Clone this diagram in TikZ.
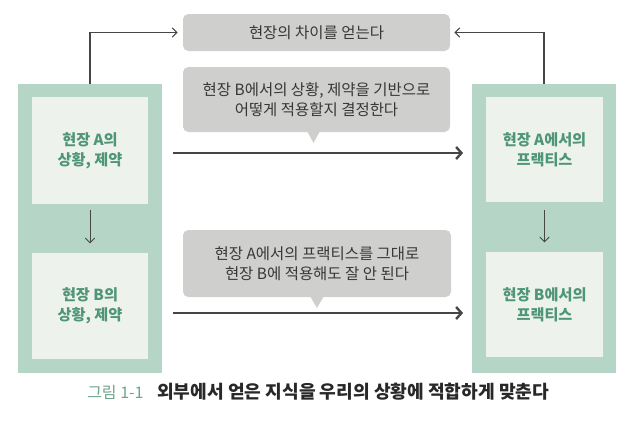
\documentclass[tikz,border=0pt]{standalone}
\usepackage{fontspec}
\setmainfont{Noto Sans CJK KR}
\usetikzlibrary{fit,arrows.meta}
\definecolor{panelg}{RGB}{181,213,198}
\definecolor{innerg}{RGB}{238,242,237}
\definecolor{textg}{RGB}{78,150,118}
\definecolor{bubg}{RGB}{207,207,205}
\definecolor{bubtext}{RGB}{55,55,55}
\definecolor{arrowc}{RGB}{70,70,70}
\definecolor{caplab}{RGB}{110,165,140}
\definecolor{capc}{RGB}{40,40,40}
\begin{document}
\begin{tikzpicture}[x=0.75pt,y=-0.75pt,
  panel/.style={fill=panelg, draw=none, inner sep=0pt},
  inbox/.style={fill=innerg, draw=none, inner sep=0pt, text=textg, font=\fontsize{11.4}{15}\selectfont\bfseries, align=center},
  bubble/.style={fill=bubg, draw=none, rounded corners=4pt, inner sep=0pt, text=bubtext, font=\fontsize{11.6}{15}\selectfont, align=center},
  thinarrow/.style={draw=arrowc, line width=0.8pt, -{Straight Barb[length=3.5pt,width=7pt]}},
  thickarrow/.style={draw=arrowc, line width=2.2pt, -{Straight Barb[length=4pt,width=9pt,line width=1.8pt]}},
  thindown/.style={draw=arrowc, line width=0.7pt, -{Straight Barb[length=3.5pt,width=7pt]}}
]
\useasboundingbox (0,0) rectangle (638,425);
% panels
\node[panel, fit={(18,84) (162,373)}] (pL) {};
\node[panel, fit={(472,84) (616,373)}] (pR) {};
\node[inbox, fit={(32,97) (148,204)}] (iA) {};
\node[inbox, fit={(32,253) (148,359)}] (iB) {};
\node[inbox, fit={(486,97) (603,202)}] (iC) {};
\node[inbox, fit={(486,252) (603,357)}] (iD) {};
\node[inbox, fill=none] (tA) at (iA.center) {현장 A의\\상황, 제약};
\node[inbox, fill=none] (tB) at (iB.center) {현장 B의\\상황, 제약};
\node[inbox, fill=none] (tC) at (iC.center) {현장 A에서의\\프랙티스};
\node[inbox, fill=none] (tD) at (iD.center) {현장 B에서의\\프랙티스};
% bubbles
\node[bubble, fit={(183,14) (450,51)}] (b1) {};
\node[bubble, fill=none] (t1) at (b1.center) {현장의 차이를 얻는다};
\node[bubble, fit={(183,67) (450,132)}] (b2) {};
\fill[bubg] (307,131) -- (320,131) -- (313.5,143) -- cycle;
\node[bubble, fill=none] (t2) at (b2.center) {현장 B에서의 상황, 제약을 기반으로\\어떻게 적용할지 결정한다};
\node[bubble, fit={(183,230) (451,297)}] (b3) {};
\fill[bubg] (310,296) -- (324,296) -- (317,308) -- cycle;
\node[bubble, fill=none] (t3) at (b3.center) {현장 A에서의 프랙티스를 그대로\\현장 B에 적용해도 잘 안 된다};
% connectors
\draw[thinarrow, shorten >=5pt*0.75] (pL.north) |- (b1.west);
\draw[thinarrow, shorten >=4pt*0.75] (pR.north) |- (b1.east);
\draw[thindown, shorten <=4.5pt, shorten >=7pt] (iA.south) -- (iB.north);
\draw[thindown, shorten <=6pt, shorten >=7pt] (iC.south) -- (iD.north);
\coordinate (h1) at (0,153);
\coordinate (h2) at (0,313);
\draw[thickarrow, shorten <=8pt, shorten >=6.5pt] (pL.east |- h1) -- (pR.west |- h1);
\draw[thickarrow, shorten <=8pt, shorten >=6.5pt] (pL.east |- h2) -- (pR.west |- h2);
% caption
\node[anchor=west, inner sep=0pt, text=caplab, font=\fontsize{12}{14}\selectfont] (cl) at (87,392) {그림 1-1};
\node[anchor=west, inner sep=0pt, text=capc, font=\fontsize{13.6}{16}\selectfont\bfseries] (ct) at (157,392) {외부에서 얻은 지식을 우리의 상황에 적합하게 맞춘다};
\end{tikzpicture}
\end{document}
